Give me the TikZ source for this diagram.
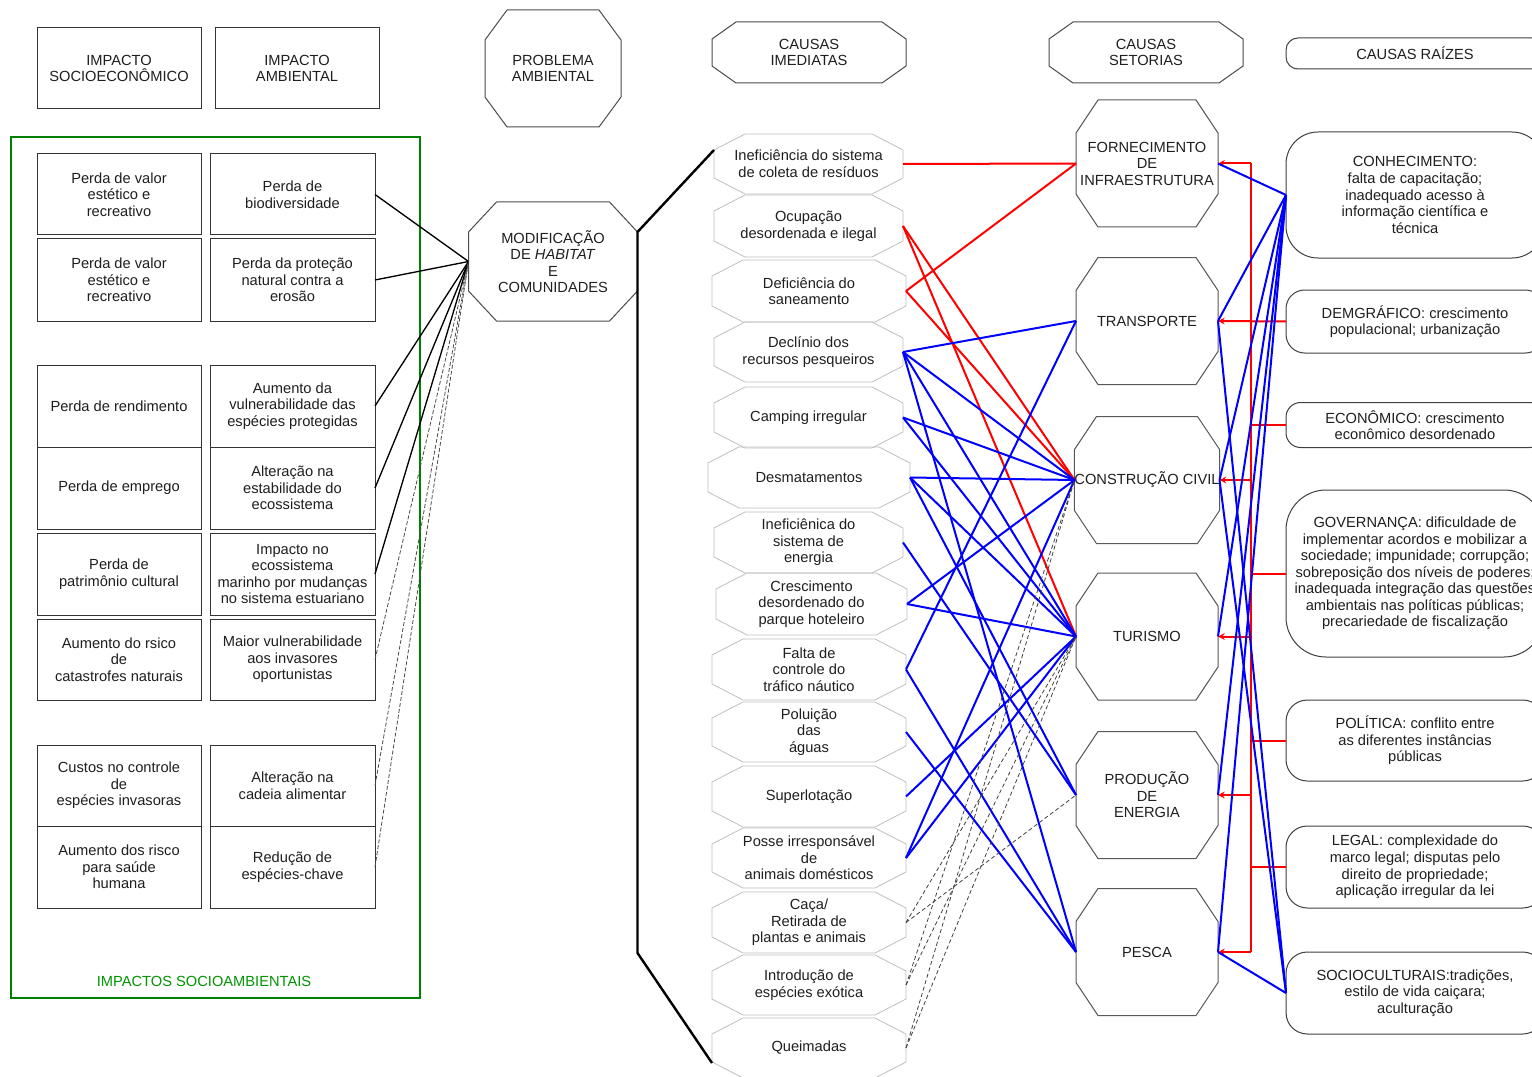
\documentclass[tikz,border=0pt]{standalone}
\usepackage{fontspec}
\setmainfont{Liberation Sans}
\usetikzlibrary{calc,arrows.meta}
\definecolor{framegreen}{RGB}{0,128,0}
\definecolor{labelgreen}{RGB}{0,150,0}
\definecolor{linkred}{RGB}{255,0,0}
\definecolor{linkblue}{RGB}{0,0,255}
% chamfered outline around a (borderless) node: name, x-cut, y-cut, style
\newcommand\octframe[4]{%
  \draw[#4] ($(#1.north west)+(#2,0)$) -- ($(#1.north east)+(-#2,0)$)
    -- ($(#1.north east)+(0,#3)$) -- ($(#1.south east)+(0,-#3)$)
    -- ($(#1.south east)+(-#2,0)$) -- ($(#1.south west)+(#2,0)$)
    -- ($(#1.south west)+(0,-#3)$) -- ($(#1.north west)+(0,#3)$) -- cycle;}
\begin{document}
\begin{tikzpicture}[x=0.75pt,y=-0.75pt,
  every node/.style={font=\fontsize{11}{12.4}\selectfont,text=black!88,align=center,inner sep=0pt,outer sep=0pt},
  sized/.style 2 args={minimum width=#1*0.75pt,minimum height=#2*0.75pt},
  impbox/.style 2 args={sized={#1}{#2},draw=black!80,line width=0.75pt},
  rootbox/.style n args={3}{sized={#1}{#2},draw=black!75,line width=0.75pt,rounded corners=#3},
  causeline/.style={draw=black!25,line width=0.6pt},
  secline/.style={draw=black!65,line width=0.75pt},
  headline/.style={draw=black!70,line width=0.75pt},
  implink/.style={draw=black,line width=1pt},
  impdash/.style={draw=black!70,line width=0.6pt,dash pattern=on 3pt off 1.5pt},
  redlink/.style={draw=linkred,line width=1.5pt},
  redarrow/.style={draw=linkred,line width=1.5pt,-{Stealth[length=5pt,width=5pt]}},
  bluelink/.style={draw=linkblue,line width=1.5pt},
  dashlink/.style={draw=black!75,line width=0.6pt,dash pattern=on 3pt off 2pt},
  bracket/.style={draw=black,line width=1.8pt}
]
\useasboundingbox (0,0) rectangle (1532,1077);
\fill[white] (0,0) rectangle (1532,1077);

% ---------- column headers ----------
\node[impbox={164}{81}] (hsoc) at (119,68.5) {IMPACTO\\SOCIOECONÔMICO};
\node[impbox={164}{81}] (hamb) at (297,68.5) {IMPACTO\\AMBIENTAL};
\node[sized={136}{117}] (hprob) at (553,68.5) {PROBLEMA\\AMBIENTAL};
\octframe{hprob}{22}{30}{headline}
\node[sized={194}{61}] (himed) at (809,52.5) {CAUSAS\\IMEDIATAS};
\octframe{himed}{24}{17}{headline}
\node[sized={194}{61}] (hset) at (1146,52.5) {CAUSAS\\SETORIAS};
\octframe{hset}{24}{17}{headline}
\node[rootbox={258}{31}{9pt}] (hraiz) at (1415,53.5) {CAUSAS RAÍZES};

% ---------- socio-environmental impacts ----------
\draw[framegreen,line width=2.2pt] (11,137) rectangle (420,998);
\node[text=labelgreen] (flabel) at (204,981) {IMPACTOS SOCIOAMBIENTAIS};

\node[impbox={164}{81}] (l1) at (119,194.5) {Perda de valor\\estético e\\recreativo};
\node[impbox={165}{81}] (a1) at (292.5,194.5) {Perda de\\biodiversidade};
\node[impbox={164}{82}] (l2) at (119,280) {Perda de valor\\estético e\\recreativo};
\node[impbox={165}{82}] (a2) at (292.5,280) {Perda da proteção\\natural contra a\\erosão};

\node[impbox={164}{82}] (l3) at (119,406) {Perda de rendimento};
\node[impbox={165}{82}] (a3) at (292.5,406) {Aumento da\\vulnerabilidade das\\espécies protegidas};
\node[impbox={164}{82}] (l4) at (119,488) {Perda de emprego};
\node[impbox={165}{82}] (a4) at (292.5,488) {Alteração na\\estabilidade do\\ecossistema};
\node[impbox={164}{82}] (l5) at (119,574) {Perda de\\patrimônio cultural};
\node[impbox={165}{82}] (a5) at (292.5,574) {Impacto no\\ecossistema\\marinho por mudanças\\no sistema estuariano};
\node[impbox={164}{81}] (l6) at (119,659.5) {Aumento do rsico\\de\\catastrofes naturais};
\node[impbox={165}{81}] (a6) at (292.5,659.5) {Maior vulnerabilidade\\aos invasores\\oportunistas};

\node[impbox={164}{81}] (l7) at (119,785.5) {Custos no controle\\de\\espécies invasoras};
\node[impbox={165}{81}] (a7) at (292.5,785.5) {Alteração na\\cadeia alimentar};
\node[impbox={164}{82}] (l8) at (119,867) {Aumento dos risco\\para saúde\\humana};
\node[impbox={165}{82}] (a8) at (292.5,867) {Redução de\\espécies-chave};

% ---------- environmental problem ----------
\node[sized={169}{119}] (mod) at (553,261.5) {MODIFICAÇÃO\\DE \textit{HABITAT}\\E\\COMUNIDADES};
\octframe{mod}{28}{30}{headline}

% ---------- immediate causes ----------
\node[sized={189}{60}] (c1) at (808.5,164) {Ineficiência do sistema\\de coleta de resíduos};
\node[sized={189}{62}] (c2) at (808.5,226) {Ocupação\\desordenada e ilegal};
\node[sized={194}{62}] (c3) at (809,291) {Deficiência do\\saneamento};
\node[sized={189}{60}] (c4) at (808.5,352) {Declínio dos\\recursos pesqueiros};
\node[sized={189}{61}] (c5) at (808.5,417.5) {Camping irregular};
\node[sized={202}{61}] (c6) at (809,477.5) {Desmatamentos};
\node[sized={189}{61}] (c7) at (808.5,542.5) {Ineficiênica do\\sistema de\\energia};
\node[sized={191}{62}] (c8) at (811.5,604) {Crescimento\\desordenado do\\parque hoteleiro};
\node[sized={194}{61}] (c9) at (809,669.5) {Falta de\\controle do\\tráfico náutico};
\node[sized={194}{60}] (c10) at (809,732) {Poluição\\das\\águas};
\node[sized={194}{61}] (c11) at (809,796.5) {Superlotação};
\node[sized={194}{60}] (c12) at (809,858) {Posse irresponsável\\de\\animais domésticos};
\node[sized={194}{61}] (c13) at (809,922.5) {Caça/\\Retirada de\\plantas e animais};
\node[sized={194}{60}] (c14) at (809,985) {Introdução de\\espécies exótica};
\node[sized={194}{60}] (c15) at (809,1048) {Queimadas};
\foreach \c in {c1,c2,c3,c4,c5,c6,c7,c8,c9,c10,c11,c12,c13,c14,c15}{\octframe{\c}{31}{16}{causeline}}

% ---------- sector causes ----------
\node[sized={142}{127}] (s1) at (1147,163.5) {FORNECIMENTO\\DE\\INFRAESTRUTURA};
\node[sized={142}{127}] (s2) at (1147,321) {TRANSPORTE};
\node[sized={142}{127}] (s3) at (1147,480) {CONSTRUÇÃO CIVIL};
\node[sized={142}{127}] (s4) at (1147,636.5) {TURISMO};
\node[sized={142}{127}] (s5) at (1147,795) {PRODUÇÃO\\DE\\ENERGIA};
\node[sized={142}{127}] (s6) at (1147,952) {PESCA};
\foreach \s in {s1,s2,s3,s4,s5,s6}{\octframe{\s}{22}{33}{secline}}

% ---------- root causes ----------
\node[rootbox={258}{126}{24pt}] (conh) at (1415,195) {CONHECIMENTO:\\falta de capacitação;\\inadequado acesso à\\informação científica e\\técnica};
\node[rootbox={258}{63}{14pt}] (dem) at (1415,321.5) {DEMGRÁFICO: crescimento\\populacional; urbanização};
\node[rootbox={258}{45}{11pt}] (eco) at (1415,425) {ECONÔMICO: crescimento\\econômico desordenado};
\node[rootbox={258}{167}{30pt}] (gov) at (1415,573.5) {GOVERNANÇA: dificuldade de\\implementar acordos e mobilizar a\\sociedade; impunidade; corrupção;\\sobreposição dos níveis de poderes;\\inadequada integração das questões\\ambientais nas políticas públicas;\\precariedade de fiscalização};
\node[rootbox={258}{81}{16pt}] (pol) at (1415,740.5) {POLÍTICA: conflito entre\\as diferentes instâncias\\públicas};
\node[rootbox={258}{82}{16pt}] (leg) at (1415,867) {LEGAL: complexidade do\\marco legal; disputas pelo\\direito de propriedade;\\aplicação irregular da lei};
\node[rootbox={258}{82}{16pt}] (soc) at (1415,993) {SOCIOCULTURAIS:tradições,\\estilo de vida caiçara;\\aculturação};

% ---------- impacts -> problem ----------
\foreach \a in {a1,a2,a3,a4,a5}{\draw[implink] (\a.east) -- (mod.west);}
\foreach \a in {a6,a7,a8}{\draw[impdash] (\a.east) -- (mod.west);}

% ---------- problem -> immediate causes bracket ----------
\coordinate (bk1) at ($(mod.north east)+(0,30)$);
\coordinate (bk2) at (bk1 |- c13.south);
\draw[bracket] ($(c1.north west)+(0,16)$) -- (bk1) -- (bk2) -- ($(c15.south west)+(0,-15)$);

% ---------- immediate causes -> sectors ----------
\draw[redlink] (c1.east) -- (s1.west);
\draw[redlink] (c2.east) -- (s3.west);
\draw[redlink] (c2.east) -- (s4.west);
\draw[redlink] (c3.east) -- (s1.west);
\draw[redlink] (c3.east) -- (s3.west);

\foreach \s in {s2,s3,s4,s6}{\draw[bluelink] (c4.east) -- (\s.west);}
\foreach \s in {s3,s4}{\draw[bluelink] (c5.east) -- (\s.west);}
\foreach \s in {s3,s4,s5}{\draw[bluelink] (c6.east) -- (\s.west);}
\draw[bluelink] (c7.east) -- (s5.west);
\foreach \s in {s3,s4}{\draw[bluelink] (c8.east) -- (\s.west);}
\foreach \s in {s2,s6}{\draw[bluelink] (c9.east) -- (\s.west);}
\draw[bluelink] (c10.east) -- (s6.west);
\draw[bluelink] (c11.east) -- (s4.west);
\foreach \s in {s3,s4}{\draw[bluelink] (c12.east) -- (\s.west);}

\foreach \s in {s4,s5}{\draw[dashlink] (c13.east) -- (\s.west);}
\foreach \s in {s3,s4}{\draw[dashlink] (c14.east) -- (\s.west);}
\foreach \s in {s3,s4}{\draw[dashlink] (c15.east) -- (\s.west);}

% ---------- root causes -> sectors ----------
\coordinate (spine) at (1251,0);
\draw[redlink] (spine |- s1.east) -- (spine |- s6.east);
\foreach \s in {s1,s3,s4,s5,s6}{\draw[redarrow] (spine |- \s.east) -- (\s.east);}
\draw[redarrow] (dem.west) -- (s2.east);
\foreach \r in {eco,gov,pol,leg}{\draw[redlink] (\r.west) -- (\r.west -| spine);}

\foreach \s in {s1,s2,s3,s4,s5,s6}{\draw[bluelink] (conh.west) -- (\s.east);}
\foreach \s in {s2,s3,s6}{\draw[bluelink] (soc.west) -- (\s.east);}
\end{tikzpicture}
\end{document}
